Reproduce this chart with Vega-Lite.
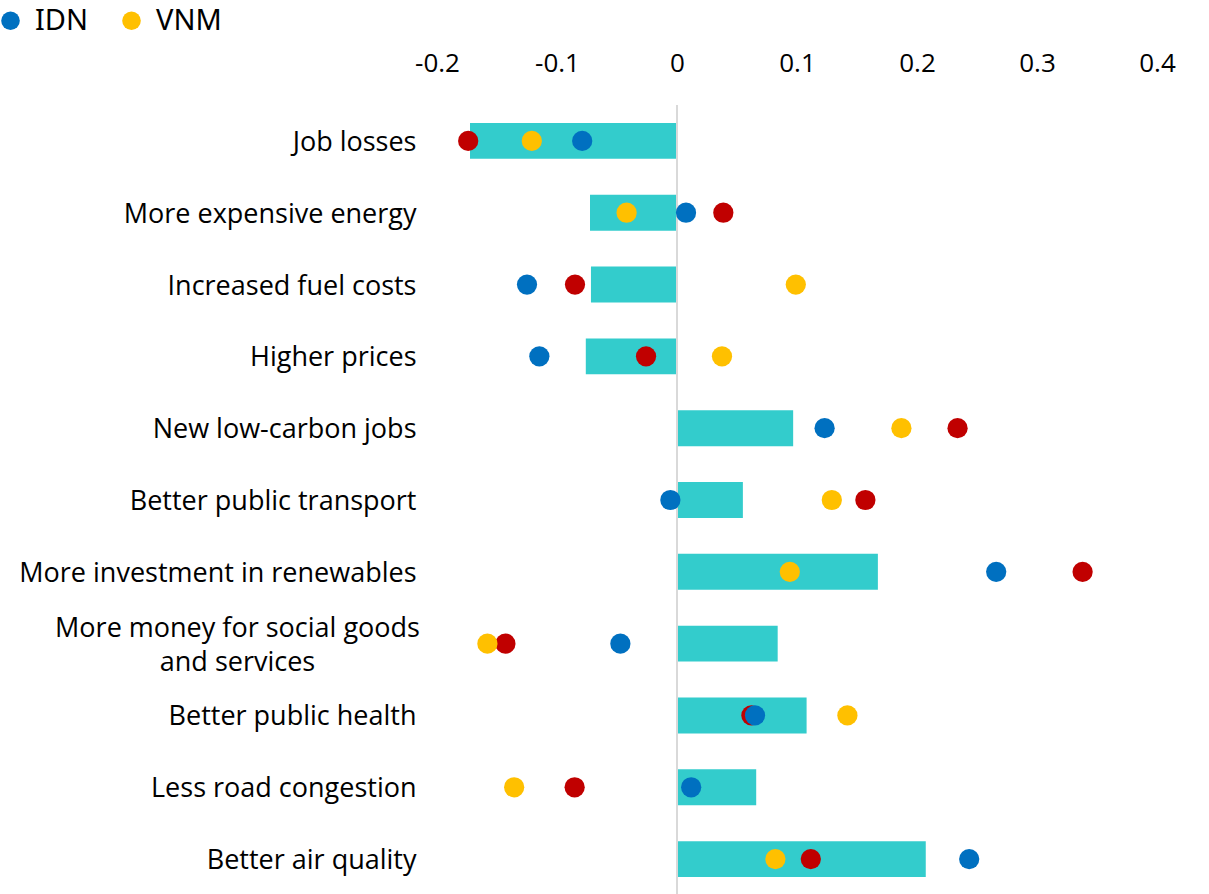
{
  "$schema": "https://vega.github.io/schema/vega-lite/v6.json",
  "autosize": {"type": "none"},
  "padding": {"left": 437, "top": 105, "right": 52, "bottom": 0},
  "width": 720,
  "height": 790,
  "background": "white",
  "config": {"view": {"stroke": null}},
  "datasets": {
    "bars": [
      {"item": "Job losses", "value": -0.1725},
      {"item": "More expensive energy", "value": -0.0725},
      {"item": "Increased fuel costs", "value": -0.0717},
      {"item": "Higher prices", "value": -0.076},
      {"item": "New low-carbon jobs", "value": 0.0968},
      {"item": "Better public transport", "value": 0.0549},
      {"item": "More investment in renewables", "value": 0.1674},
      {"item": "More money for social goods and services", "value": 0.0839},
      {"item": "Better public health", "value": 0.108},
      {"item": "Less road congestion", "value": 0.066},
      {"item": "Better air quality", "value": 0.2073}
    ],
    "dots": [
      {"item": "Job losses", "country": "Other", "value": -0.174},
      {"item": "More expensive energy", "country": "Other", "value": 0.0386},
      {"item": "Increased fuel costs", "country": "Other", "value": -0.085},
      {"item": "Higher prices", "country": "Other", "value": -0.0258},
      {"item": "New low-carbon jobs", "country": "Other", "value": 0.2338},
      {"item": "Better public transport", "country": "Other", "value": 0.157},
      {"item": "More investment in renewables", "country": "Other", "value": 0.338},
      {"item": "More money for social goods and services", "country": "Other", "value": -0.143},
      {"item": "Better public health", "country": "Other", "value": 0.062},
      {"item": "Less road congestion", "country": "Other", "value": -0.0853},
      {"item": "Better air quality", "country": "Other", "value": 0.1115},
      {"item": "Job losses", "country": "IDN", "value": -0.079},
      {"item": "More expensive energy", "country": "IDN", "value": 0.0075},
      {"item": "Increased fuel costs", "country": "IDN", "value": -0.125},
      {"item": "Higher prices", "country": "IDN", "value": -0.1147},
      {"item": "New low-carbon jobs", "country": "IDN", "value": 0.123},
      {"item": "Better public transport", "country": "IDN", "value": -0.0055},
      {"item": "More investment in renewables", "country": "IDN", "value": 0.266},
      {"item": "More money for social goods and services", "country": "IDN", "value": -0.0472},
      {"item": "Better public health", "country": "IDN", "value": 0.065},
      {"item": "Less road congestion", "country": "IDN", "value": 0.0118},
      {"item": "Better air quality", "country": "IDN", "value": 0.2435},
      {"item": "Job losses", "country": "VNM", "value": -0.121},
      {"item": "More expensive energy", "country": "VNM", "value": -0.042},
      {"item": "Increased fuel costs", "country": "VNM", "value": 0.099},
      {"item": "Higher prices", "country": "VNM", "value": 0.0375},
      {"item": "New low-carbon jobs", "country": "VNM", "value": 0.187},
      {"item": "Better public transport", "country": "VNM", "value": 0.129},
      {"item": "More investment in renewables", "country": "VNM", "value": 0.094},
      {"item": "More money for social goods and services", "country": "VNM", "value": -0.158},
      {"item": "Better public health", "country": "VNM", "value": 0.142},
      {"item": "Less road congestion", "country": "VNM", "value": -0.1357},
      {"item": "Better air quality", "country": "VNM", "value": 0.082}
    ]
  },
  "encoding": {
    "y": {
      "field": "item",
      "type": "nominal",
      "sort": null,
      "scale": {"paddingInner": 0.5, "paddingOuter": 0.25},
      "axis": {
        "title": null,
        "domain": false,
        "ticks": false,
        "labelFont": "Open Sans",
        "labelFontSize": 27,
        "labelColor": "#000000",
        "labelLimit": 500,
        "labelLineHeight": 34,
        "labelPadding": {"condition": {"test": "datum.value == 'More money for social goods and services'", "value": 200}, "value": 21},
        "labelAlign": {"condition": {"test": "datum.value == 'More money for social goods and services'", "value": "center"}, "value": "right"},
        "labelOffset": {"condition": {"test": "datum.value == 'More money for social goods and services'", "value": -15}, "value": 2},
        "labelExpr": "datum.value == 'More money for social goods and services' ? ['More money for social goods', 'and services'] : datum.value"
      }
    }
  },
  "layer": [
    {
      "data": {"name": "bars"},
      "mark": {"type": "bar", "color": "#33CCCC"},
      "encoding": {
        "x": {
          "field": "value",
          "type": "quantitative",
          "scale": {"domain": [-0.2, 0.4], "nice": false, "zero": false},
          "axis": {
            "orient": "top",
            "title": null,
            "domain": false,
            "ticks": false,
            "grid": false,
            "values": [-0.2, -0.1, 0, 0.1, 0.2, 0.3, 0.4],
            "labelExpr": "toString(datum.value)",
            "labelFont": "Open Sans",
            "labelFontSize": 26,
            "labelColor": "#000000",
            "labelPadding": 29,
            "labelFlush": false
          }
        }
      }
    },
    {
      "data": {"values": [{"z": 0}]},
      "mark": {"type": "rule", "color": "#D9D9D9", "strokeWidth": 2},
      "encoding": {"x": {"field": "z", "type": "quantitative"}, "y": null}
    },
    {
      "data": {"name": "dots"},
      "mark": {"type": "point", "filled": true, "shape": "circle", "opacity": 1, "size": 410},
      "encoding": {
        "x": {"field": "value", "type": "quantitative"},
        "color": {
          "field": "country",
          "type": "nominal",
          "scale": {"domain": ["IDN", "VNM", "Other"], "range": ["#0070C0", "#FFC000", "#C00000"]},
          "legend": {
            "values": ["IDN", "VNM"],
            "title": null,
            "orient": "none",
            "legendX": -441,
            "legendY": -99,
            "direction": "horizontal",
            "padding": 0,
            "symbolType": "circle",
            "symbolSize": 346,
            "symbolStrokeWidth": 0,
            "labelFont": "Noto Sans",
            "labelFontSize": 29,
            "labelColor": "#000000",
            "labelOffset": 10,
            "columnPadding": 28
          }
        }
      }
    }
  ]
}
